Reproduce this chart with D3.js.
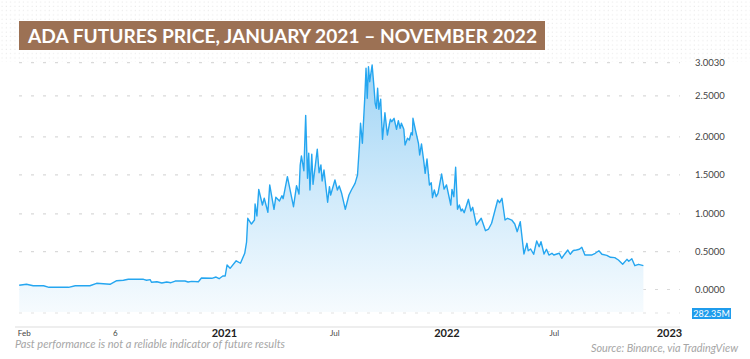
<!DOCTYPE html>
<html><head><meta charset="utf-8">
<script src="https://cdn.jsdelivr.net/npm/d3@7"></script>
<style>html,body{margin:0;padding:0;background:#fff;}svg{display:block;}</style>
</head><body>
<svg id="chart" width="750" height="359"></svg>
<script>
const titleText = "ADA FUTURES PRICE, JANUARY 2021 – NOVEMBER 2022";
const footerLeft = "Past performance is not a reliable indicator of future results";
const footerRight = "Source: Binance, via TradingView";
const volumeLabel = "282.35M";

const dates = [
"2020-01-31","2020-02-12","2020-02-23","2020-03-11","2020-03-20","2020-04-21","2020-05-02","2020-05-26","2020-06-06","2020-06-28",
"2020-07-09","2020-07-20","2020-07-28","2020-08-22","2020-08-27","2020-09-02","2020-09-04","2020-09-13","2020-09-21","2020-09-29",
"2020-10-06","2020-10-13","2020-10-29","2020-11-03","2020-11-09","2020-11-20","2020-11-25","2020-12-12","2020-12-19","2020-12-24",
"2020-12-30","2021-01-03","2021-01-06","2021-01-11","2021-01-21","2021-01-28","2021-02-04","2021-02-07","2021-02-09","2021-02-15",
"2021-02-20","2021-02-21","2021-02-24","2021-02-27","2021-03-05","2021-03-08","2021-03-14","2021-03-17","2021-03-24","2021-03-27",
"2021-04-02","2021-04-06","2021-04-08","2021-04-15","2021-04-25","2021-04-30","2021-05-04","2021-05-06","2021-05-08","2021-05-12",
"2021-05-15","2021-05-18","2021-05-20","2021-05-22","2021-05-25","2021-05-27","2021-06-03","2021-06-06","2021-06-09","2021-06-11",
"2021-06-14","2021-06-20","2021-06-23","2021-06-25","2021-07-02","2021-07-06","2021-07-09","2021-07-13","2021-07-19","2021-07-25",
"2021-07-29","2021-08-04","2021-08-08","2021-08-11","2021-08-13","2021-08-16","2021-08-20","2021-08-22","2021-08-24","2021-08-26",
"2021-08-28","2021-09-01","2021-09-04","2021-09-06","2021-09-08","2021-09-10","2021-09-12","2021-09-15","2021-09-18","2021-09-22",
"2021-09-26","2021-09-29","2021-10-01","2021-10-03","2021-10-07","2021-10-11","2021-10-14","2021-10-17","2021-10-19","2021-10-23",
"2021-10-25","2021-10-29","2021-11-01","2021-11-04","2021-11-06","2021-11-07","2021-11-11","2021-11-16","2021-11-18","2021-11-21",
"2021-11-25","2021-11-27","2021-11-30","2021-12-04","2021-12-07","2021-12-09","2021-12-12","2021-12-15","2021-12-18","2021-12-24",
"2021-12-28","2022-01-01","2022-01-08","2022-01-10","2022-01-13","2022-01-16","2022-01-19","2022-01-22","2022-01-25","2022-01-27",
"2022-01-30","2022-02-06","2022-02-10","2022-02-13","2022-02-19","2022-02-27","2022-03-06","2022-03-11","2022-03-16","2022-03-26",
"2022-03-29","2022-04-02","2022-04-07","2022-04-11","2022-04-18","2022-04-23","2022-04-27","2022-05-02","2022-05-08","2022-05-13",
"2022-05-15","2022-05-19","2022-05-24","2022-05-29","2022-06-02","2022-06-05","2022-06-10","2022-06-14","2022-06-18","2022-06-23",
"2022-06-26","2022-07-01","2022-07-05","2022-07-09","2022-07-14","2022-07-19","2022-07-23","2022-07-28","2022-08-02","2022-08-07",
"2022-08-11","2022-08-16","2022-08-27","2022-09-02","2022-09-08","2022-09-13","2022-09-21","2022-09-27","2022-10-04","2022-10-10",
"2022-10-17","2022-10-24","2022-10-27","2022-11-01","2022-11-06","2022-11-12","2022-11-20"
];

const prices = [
0.056,0.069,0.050,0.050,0.029,0.029,0.050,0.050,0.082,0.069,
0.116,0.122,0.135,0.135,0.122,0.130,0.095,0.103,0.086,0.099,
0.090,0.112,0.112,0.099,0.108,0.103,0.152,0.148,0.165,0.143,
0.179,0.179,0.324,0.280,0.380,0.347,0.479,0.628,0.942,0.866,
0.919,1.127,0.972,1.315,1.114,1.200,1.021,1.371,1.059,1.213,
1.165,1.233,1.195,1.477,1.092,1.362,1.255,1.630,1.749,1.555,
2.263,1.456,1.784,1.306,1.771,1.379,1.837,1.529,1.630,1.422,
1.564,1.149,1.349,1.242,1.435,1.306,1.358,1.264,1.059,1.242,
1.306,1.392,1.499,1.871,2.166,1.916,2.490,2.918,2.471,2.942,
2.715,2.968,2.639,2.410,2.349,2.615,2.337,2.459,1.968,2.295,
2.023,2.145,2.215,2.185,2.227,2.093,2.198,2.105,2.166,2.093,
1.893,1.982,1.959,2.051,2.023,2.227,2.084,1.916,1.762,1.907,
1.661,1.521,1.709,1.371,1.400,1.208,1.306,1.221,1.264,1.512,
1.319,1.371,1.114,1.315,1.221,1.600,1.059,1.114,1.037,1.063,
1.015,1.187,1.037,1.085,0.853,0.942,0.778,0.800,0.876,1.178,
1.144,1.200,0.919,0.942,0.919,0.866,0.765,0.897,0.470,0.611,
0.513,0.536,0.466,0.642,0.566,0.632,0.470,0.532,0.456,0.479,
0.456,0.470,0.479,0.413,0.470,0.522,0.466,0.516,0.522,0.532,
0.558,0.456,0.456,0.479,0.513,0.466,0.452,0.426,0.421,0.390,
0.333,0.399,0.373,0.407,0.315,0.333,0.315
];

const yTickValues = [0, 0.5, 1, 1.5, 2, 2.5, 3.003];
const yTickLabels = ["0.0000","0.5000","1.0000","1.5000","2.0000","2.5000","3.0030"];
const xTickDates = ["2020-02-01","2020-07-06","2021-01-01","2021-07-01","2022-01-01","2022-07-01","2023-01-01"];
const xTickLabels = ["Feb","6","2021","Jul","2022","Jul","2023"];
const xTickBold = [false,false,true,false,true,false,true];

const parse = d3.timeParse("%Y-%m-%d");
const data = dates.map((d,i)=>({date:parse(d), value:prices[i]}));

const svg = d3.select("#chart");
const W = 750, H = 359;
const plotLeft = 19, plotRight = 680, plotBottom = 312;

const x = d3.scaleTime()
  .domain([parse("2021-01-01"), parse("2023-01-01")])
  .range([224, 669]);
// TradingView price axis (screen-measured tick positions)
const y = d3.scaleLinear()
  .domain(yTickValues)
  .range([289.5, 251.7, 213.9, 174.9, 136.9, 95.9, 62.7]);

const defs = svg.append("defs");
const pat = defs.append("pattern").attr("id","dots").attr("patternUnits","userSpaceOnUse")
  .attr("width",4.3).attr("height",4.3);
pat.append("rect").attr("x",1.5).attr("y",1.5).attr("width",1).attr("height",1).attr("fill","#e4e4e4");

const grad = defs.append("linearGradient").attr("id","areaGrad")
  .attr("gradientUnits","userSpaceOnUse").attr("x1",0).attr("y1",y(3.003)).attr("x2",0).attr("y2",plotBottom);
grad.append("stop").attr("offset","0%").attr("stop-color","#9fd4f5");
grad.append("stop").attr("offset","55%").attr("stop-color","#d2ebfb");
grad.append("stop").attr("offset","100%").attr("stop-color","#f6fbfe");

// background dot texture at top
svg.append("rect").attr("x",0).attr("y",0).attr("width",W).attr("height",62).attr("fill","url(#dots)");

// grid lines
const gridG = svg.append("g");
gridG.selectAll("line.g").data(yTickValues).join("line")
  .attr("x1",plotLeft).attr("x2",plotRight)
  .attr("y1",d=>y(d)).attr("y2",d=>y(d))
  .attr("stroke","#d9d9d9").attr("stroke-width",1.2).attr("stroke-dasharray","3 9");
gridG.append("line").attr("x1",plotLeft).attr("x2",plotRight).attr("y1",313).attr("y2",313)
  .attr("stroke","#e2e2e2").attr("stroke-width",1.2).attr("stroke-dasharray","3 9");

// area + line
const area = d3.area().x(d=>x(d.date)).y0(plotBottom).y1(d=>y(d.value));
const line = d3.line().x(d=>x(d.date)).y(d=>y(d.value));
svg.append("path").datum(data).attr("d",area).attr("fill","url(#areaGrad)");
svg.append("path").datum(data).attr("d",line).attr("fill","none")
  .attr("stroke","#25a6f0").attr("stroke-width",1.4).attr("stroke-linejoin","round");

// y labels
svg.append("g").selectAll("text").data(yTickValues).join("text")
  .attr("x",695).attr("y",d=>y(d)).attr("dy","0.35em")
  .attr("font-family","Lato, 'Open Sans', sans-serif").attr("font-size",9.5)
  .attr("fill","#444").text((d,i)=>yTickLabels[i]);

// volume label
svg.append("rect").attr("x",692).attr("y",308).attr("width",39).attr("height",11).attr("fill","#1f9cec");
svg.append("text").attr("x",711.5).attr("y",317).attr("text-anchor","middle")
  .attr("font-family","Lato, sans-serif").attr("font-size",9).attr("fill","#fff").text(volumeLabel);

// x axis line
svg.append("line").attr("x1",15).attr("x2",680).attr("y1",327).attr("y2",327)
  .attr("stroke","#e8e8e8").attr("stroke-width",1.6);

const xAxis = d3.axisBottom(x)
  .tickValues(xTickDates.map(parse))
  .tickFormat((d,i)=>xTickLabels[i])
  .tickSize(0).tickPadding(0);
const gx = svg.append("g").attr("transform","translate(0,329)").call(xAxis);
gx.select(".domain").remove();
gx.selectAll("text")
  .attr("dy","0.71em")
  .attr("font-family","Lato, 'Open Sans', sans-serif")
  .attr("font-size",(d,i)=>xTickBold[i]?11:8)
  .attr("font-weight",(d,i)=>xTickBold[i]?700:400)
  .attr("fill",(d,i)=>xTickBold[i]?"#222":"#444")
  .attr("y",(d,i)=>xTickBold[i]?0:1.5)
  .attr("dx",(d,i)=>i===0?4:(i===5?-3:0));

// title
svg.append("rect").attr("x",19).attr("y",21).attr("width",526).attr("height",29).attr("fill","#9c7154");
svg.append("text").attr("x",28).attr("y",43)
  .attr("font-family","Lato, 'Noto Sans', sans-serif").attr("font-weight",700).attr("font-size",19)
  .attr("fill","#fff").attr("textLength",509).attr("lengthAdjust","spacingAndGlyphs").text(titleText);

// footer
svg.append("text").attr("x",15).attr("y",348)
  .attr("font-family","Lato, sans-serif").attr("font-style","italic").attr("font-weight",400).attr("font-size",10.5)
  .attr("fill","#a6a6a6").attr("textLength",270).attr("lengthAdjust","spacingAndGlyphs").text(footerLeft);
svg.append("text").attr("x",738).attr("y",352).attr("text-anchor","end")
  .attr("font-family","Lato, sans-serif").attr("font-style","italic").attr("font-weight",400).attr("font-size",10.5)
  .attr("fill","#a6a6a6").attr("textLength",147).attr("lengthAdjust","spacingAndGlyphs").text(footerRight);
</script>
</body></html>
